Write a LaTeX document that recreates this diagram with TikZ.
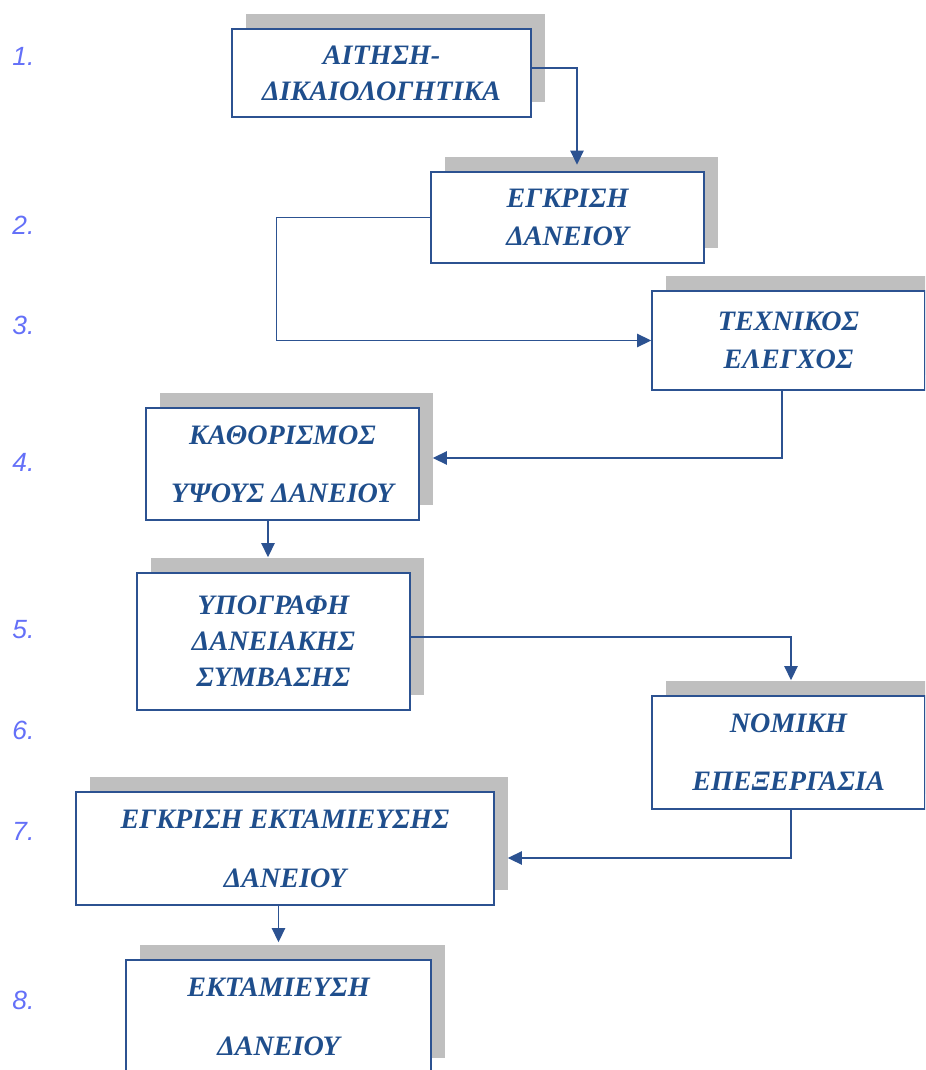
\documentclass[tikz,border=0pt]{standalone}
\usepackage{fontspec}
\setmainfont{Liberation Serif}
\newfontfamily\numfont{Liberation Sans}
\usetikzlibrary{arrows.meta,calc,positioning,shadows}
\definecolor{boxblue}{HTML}{2C5291}
\definecolor{textblue}{HTML}{1F4E8C}
\definecolor{numblue}{HTML}{6470F8}
\definecolor{shadowgray}{HTML}{BFBFBF}

\begin{document}
\begin{tikzpicture}[x=0.02cm,y=-0.02cm,
  procbox/.style={draw=boxblue,line width=0.85pt,fill=white,inner sep=0pt,align=center,
    font=\fontsize{16}{20.5}\selectfont\bfseries\itshape,text=textblue,
    drop shadow={shadow xshift=0.28cm,shadow yshift=0.3cm,fill=shadowgray,opacity=1}},
  link/.style={draw=boxblue,line width=0.85pt,-{Triangle[length=8pt,width=7.5pt]}},
  stepnum/.style={anchor=west,inner sep=0pt,text=numblue,font=\numfont\itshape\fontsize{15}{18}\selectfont}]
  \useasboundingbox (0,0) rectangle (925,1070);
  \clip (0,0) rectangle (925,1070);
  % process boxes
  \node[procbox,minimum width=5.98cm,minimum height=1.76cm] (aitisi) at (381.5,73) {ΑΙΤΗΣΗ-\\ΔΙΚΑΙΟΛΟΓΗΤΙΚΑ};
  \node[procbox,minimum width=5.46cm,minimum height=1.82cm] (egkrisi) at (567.5,217.5) {ΕΓΚΡΙΣΗ\\[1.5pt]ΔΑΝΕΙΟΥ};
  \node[procbox,minimum width=5.46cm,minimum height=1.98cm] (technikos) at (788.5,340.5) {ΤΕΧΝΙΚΟΣ\\[1.5pt]ΕΛΕΓΧΟΣ};
  \node[procbox,minimum width=5.46cm,minimum height=2.24cm] (kathorismos) at (282.5,464) {ΚΑΘΟΡΙΣΜΟΣ\\[12.5pt]ΥΨΟΥΣ ΔΑΝΕΙΟΥ};
  \node[procbox,minimum width=5.46cm,minimum height=2.74cm] (ypografi) at (273.5,641.5) {ΥΠΟΓΡΑΦΗ\\ΔΑΝΕΙΑΚΗΣ\\ΣΥΜΒΑΣΗΣ};
  \node[procbox,minimum width=5.46cm,minimum height=2.26cm] (nomiki) at (788.5,752.5) {ΝΟΜΙΚΗ\\[12.5pt]ΕΠΕΞΕΡΓΑΣΙΑ};
  \node[procbox,minimum width=8.36cm,minimum height=2.26cm] (egkrisiekt) at (285,848.5) {ΕΓΚΡΙΣΗ ΕΚΤΑΜΙΕΥΣΗΣ\\[13pt]ΔΑΝΕΙΟΥ};
  \node[procbox,minimum width=6.1cm,minimum height=2.26cm] (ektamieusi) at (278.5,1016.5) {ΕΚΤΑΜΙΕΥΣΗ\\[13pt]ΔΑΝΕΙΟΥ};
  % connectors
  \draw[link] ([yshift=0.1cm]aitisi.east) -| ([xshift=0.19cm,yshift=0.13cm]egkrisi.north);
  \draw[link] (egkrisi.west) -- ++(-154,0) |- (technikos.west);
  \draw[link] ([xshift=-0.13cm]technikos.south) |- ([xshift=0.26cm,yshift=0.12cm]kathorismos.east);
  \draw[link] ([xshift=-0.29cm]kathorismos.south) -- ([xshift=-0.29cm,yshift=0.3cm]kathorismos.south |- ypografi.north);
  \draw[link] ([yshift=0.09cm]ypografi.east) -| ([xshift=0.05cm,yshift=0.3cm]nomiki.north);
  \draw[link] ([xshift=0.05cm]nomiki.south) |- ([xshift=0.26cm,yshift=-0.19cm]egkrisiekt.east);
  \draw[link] (egkrisiekt.south -| ektamieusi.north) -- ([yshift=0.34cm]ektamieusi.north);
  % step numbers
  \foreach \n/\y in {1/56,2/225,3/325,4/462,5/630,6/730,7/831,8/1000}
    \node[stepnum] (num\n) at (12,\y) {\n.};
\end{tikzpicture}
\end{document}
